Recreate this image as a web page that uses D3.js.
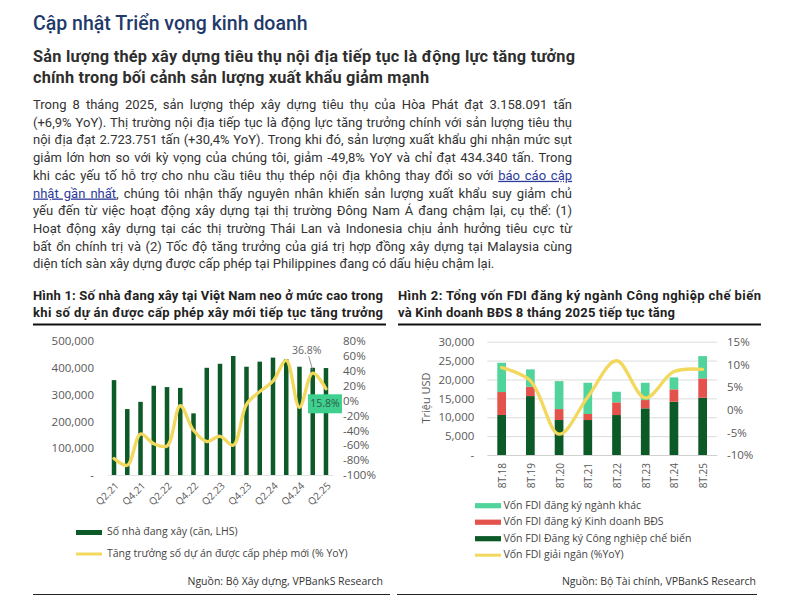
<!DOCTYPE html>
<html><head><meta charset="utf-8">
<script src="https://cdn.jsdelivr.net/npm/d3@7"></script>
<style>body{margin:0;background:#fff} svg{display:block}</style>
</head><body>
<svg id="c" width="789" height="595"></svg>
<script>
// ---------- DATA ----------
const quarters = ["Q2.21","Q3.21","Q4.21","Q1.22","Q2.22","Q3.22","Q4.22","Q1.23","Q2.23","Q3.23","Q4.23","Q1.24","Q2.24","Q3.24","Q4.24","Q1.25","Q2.25"];
const housesUnderConstruction = [354000,246000,273000,333000,328000,325000,230000,400000,415000,444000,404000,423000,438000,432000,404000,400000,399000];
const newPermitGrowth = [-78,-87,-45,-58,-61,-7,-40,-55,-48,-60,-5,12,26,54,-9,36.8,15.8];
const leftTicks1 = [0,100000,200000,300000,400000,500000];
const rightTicks1 = [-100,-80,-60,-40,-20,0,20,40,60,80];
const xLabels1 = ["Q2.21","Q4.21","Q2.22","Q4.22","Q2.23","Q4.23","Q2.24","Q4.24","Q2.25"];

const periods = ["8T.18","8T.19","8T.20","8T.21","8T.22","8T.23","8T.24","8T.25"];
const fdiManufacturing = [10600,15600,9260,9260,10580,12350,14100,15160];
const fdiRealEstate = [6070,2470,2900,1600,3360,2200,3280,5130];
const fdiOther = [7750,4600,7400,8270,2810,4580,3170,5900];
const fdiDisbursedGrowth = [9.3,6.4,-5.4,2.8,10.8,2.6,8.4,8.9];
const leftTicks2 = [0,5000,10000,15000,20000,25000,30000];
const rightTicks2 = [-10,-5,0,5,10,15];

const heading = "Cập nhật Triển vọng kinh doanh";
const subheading = ["Sản lượng thép xây dựng tiêu thụ nội địa tiếp tục là động lực tăng tưởng",
                    "chính trong bối cảnh sản lượng xuất khẩu giảm mạnh"];
const paraLines = [
 [["Trong 8 tháng 2025, sản lượng thép xây dựng tiêu thụ của Hòa Phát đạt 3.158.091 tấn"]],
 [["(+6,9% YoY). Thị trường nội địa tiếp tục là động lực tăng trưởng chính với sản lượng tiêu thụ"]],
 [["nội địa đạt 2.723.751 tấn (+30,4% YoY). Trong khi đó, sản lượng xuất khẩu ghi nhận mức sụt"]],
 [["giảm lớn hơn so với kỳ vọng của chúng tôi, giảm -49,8% YoY và chỉ đạt 434.340 tấn. Trong"]],
 [["khi các yếu tố hỗ trợ cho nhu cầu tiêu thụ thép nội địa không thay đổi so với "],["báo cáo cập",1]],
 [["nhật gần nhất",1],[", chúng tôi nhận thấy nguyên nhân khiến sản lượng xuất khẩu suy giảm chủ"]],
 [["yếu đến từ việc hoạt động xây dựng tại thị trường Đông Nam Á đang chậm lại, cụ thể: (1)"]],
 [["Hoạt động xây dựng tại các thị trường Thái Lan và Indonesia chịu ảnh hưởng tiêu cực từ"]],
 [["bất ổn chính trị và (2) Tốc độ tăng trưởng của giá trị hợp đồng xây dựng tại Malaysia cùng"]],
 [["diện tích sàn xây dựng được cấp phép tại Philippines đang có dấu hiệu chậm lại."]]
];
const title1 = ["Hình 1: Số nhà đang xây tại Việt Nam neo ở mức cao trong","khi số dự án được cấp phép xây mới tiếp tục tăng trưởng"];
const title2 = ["Hình 2: Tổng vốn FDI đăng ký ngành Công nghiệp chế biến","và Kinh doanh BĐS 8 tháng 2025 tiếp tục tăng"];
const legend1 = ["Số nhà đang xây (căn, LHS)","Tăng trưởng số dự án được cấp phép mới (% YoY)"];
const legend2 = ["Vốn FDI đăng ký ngành khác","Vốn FDI đăng ký Kinh doanh BĐS","Vốn FDI Đăng ký Công nghiệp chế biến","Vốn FDI giải ngân (%YoY)"];
const source1 = "Nguồn: Bộ Xây dựng, VPBankS Research";
const source2 = "Nguồn: Bộ Tài chính, VPBankS Research";

// ---------- STYLE ----------
const TF = "Roboto, 'Noto Sans', sans-serif";
const CF = "'Open Sans', 'Noto Sans', sans-serif";
const DARK = "#0b5a27", RED = "#e4534b", MINT = "#50d49c", YEL = "#f2d85c";
const svg = d3.select("#c");

function fitWidth(sel, w){
  const n = sel.node().getComputedTextLength();
  if(Math.abs(n-w)>0.5) sel.attr("textLength",w).attr("lengthAdjust", n>w ? "spacingAndGlyphs" : "spacing");
}

// ---------- HEADER TEXT ----------
svg.append("text").attr("x",33).attr("y",25).attr("dominant-baseline","middle")
  .attr("font-family",TF).attr("font-weight",500).attr("font-size",19.5).attr("fill","#1f3a6a").text(heading);
const subW = [542, 396];
subheading.forEach((s,i)=>{
  const t = svg.append("text").attr("x",33).attr("y",58+i*21).attr("dominant-baseline","middle")
   .attr("font-family",TF).attr("font-weight",700).attr("font-size",16.3).attr("fill","#2e2e2e").text(s);
  fitWidth(t, subW[i]);
});

// paragraph, justified
const pg = svg.append("g");
const pLeft = 33, pRight = 572, lh = 17.7, pTop = 106;
const pNodes = paraLines.map((parts,i)=>{
  const t = pg.append("text").attr("x",pLeft).attr("y",pTop+i*lh).attr("dominant-baseline","middle")
    .attr("font-family",TF).attr("font-size",13).attr("fill","#333");
  parts.forEach(p=>{
    const ts = t.append("tspan").text(p[0]);
    if(p[1]) ts.attr("fill","#2d3a9a").attr("text-decoration","underline");
  });
  return t;
});
let scale = 1;
pNodes.forEach((t,i)=>{ if(i<pNodes.length-1){ const w=t.node().getComputedTextLength(); scale=Math.min(scale,(pRight-pLeft)/w); }});
const fs = 13*Math.min(1, scale*1.02);
pNodes.forEach((t,i)=>{
  t.attr("font-size",fs);
  if(i<pNodes.length-1){
    const w=t.node().getComputedTextLength();
    const txt = paraLines[i].map(p=>p[0]).join("");
    const n = (txt.match(/ /g)||[]).length;
    t.attr("word-spacing",(pRight-pLeft-w)/n);
    const w2=t.node().getComputedTextLength();
    if(Math.abs(w2-(pRight-pLeft))>1) t.attr("textLength",pRight-pLeft).attr("lengthAdjust","spacingAndGlyphs");
  }
});

// ---------- TITLES ----------
function chartTitle(lines,x,widths,x2){
  lines.forEach((s,i)=>{
    const t = svg.append("text").attr("x",x).attr("y",297+i*16.5).attr("dominant-baseline","middle")
      .attr("font-family",TF).attr("font-weight",700).attr("font-size",13).attr("fill","#222").text(s);
    fitWidth(t, widths[i]);
  });
  svg.append("line").attr("x1",x).attr("x2",x2).attr("y1",324.5).attr("y2",324.5).attr("stroke","#111").attr("stroke-width",2);
}
chartTitle(title1,33,[350,350],386);
chartTitle(title2,398,[363,277],761);

// ---------- CHART 1 ----------
const g1 = svg.append("g");
const x1 = d3.scaleBand().domain(quarters).range([107.4,332.6]);
const y1L = d3.scaleLinear().domain([0,500000]).range([475,341]);
const y1R = d3.scaleLinear().domain([-100,80]).range([475,341]);
const cx1 = d => x1(d)+x1.bandwidth()/2;

const ax1L = g1.append("g").attr("transform","translate(107,0)")
  .call(d3.axisLeft(y1L).tickValues(leftTicks1).tickSize(0).tickPadding(13)
    .tickFormat(d=> d===0 ? "-" : d3.format(",")(d)));
const ax1R = g1.append("g").attr("transform","translate(333,0)")
  .call(d3.axisRight(y1R).tickValues(rightTicks1).tickSize(0).tickPadding(10)
    .tickFormat(d=> (d<0?"-":"")+Math.abs(d)+"%"));
const ax1B = g1.append("g").attr("transform","translate(0,475)")
  .call(d3.axisBottom(x1).tickValues(xLabels1).tickSize(0));
[ax1L,ax1R].forEach(a=>{ a.select(".domain").remove(); a.selectAll("text").attr("font-family",CF).attr("font-size",11.5).attr("fill","#595959"); });
ax1B.select(".domain").attr("stroke","#e3e3e3");
ax1B.selectAll("text").attr("font-family",CF).attr("font-size",10).attr("fill","#595959")
  .attr("y",0).attr("dy","0.35em").attr("text-anchor","end").attr("transform","translate(3,9) rotate(-45)");

g1.selectAll("rect.b1").data(quarters).join("rect").attr("class","b1")
  .attr("x",d=>cx1(d)-2.25).attr("width",4.5)
  .attr("y",(d,i)=>y1L(housesUnderConstruction[i]))
  .attr("height",(d,i)=>y1L(0)-y1L(housesUnderConstruction[i]))
  .attr("fill",DARK);

const line1 = d3.line().x((d,i)=>cx1(quarters[i])).y(d=>y1R(d)).curve(d3.curveCatmullRom.alpha(0.5));
g1.append("path").datum(newPermitGrowth).attr("d",line1).attr("fill","none")
  .attr("stroke",YEL).attr("stroke-width",3.3).attr("stroke-linecap","round").attr("stroke-linejoin","round");

// annotations
const iA = 15, iB = 16;
const pax = cx1(quarters[iA]), pay = y1R(newPermitGrowth[iA]);
g1.append("line").attr("x1",pax-4).attr("y1",pay-17).attr("x2",pax).attr("y2",pay-3).attr("stroke","#777").attr("stroke-width",0.8);
g1.append("text").attr("x",pax-6).attr("y",pay-21.5).attr("text-anchor","middle").attr("dominant-baseline","middle")
  .attr("font-family",CF).attr("font-size",10.5).attr("fill","#666").text(newPermitGrowth[iA].toFixed(1)+"%");
const pbx = cx1(quarters[iB]), pby = y1R(newPermitGrowth[iB]);
g1.append("rect").attr("x",pbx-18).attr("y",pby+5.5).attr("width",34).attr("height",19).attr("fill","#3fcf8e");
g1.append("text").attr("x",pbx-1).attr("y",pby+15.5).attr("text-anchor","middle").attr("dominant-baseline","middle")
  .attr("font-family",CF).attr("font-size",10.5).attr("fill","#2d5c4a").text(newPermitGrowth[iB].toFixed(1)+"%");

// legend 1
g1.append("rect").attr("x",76).attr("y",530).attr("width",26).attr("height",5).attr("fill",DARK);
g1.append("line").attr("x1",76).attr("x2",102).attr("y1",554).attr("y2",554).attr("stroke",YEL).attr("stroke-width",3);
legend1.forEach((s,i)=>{
  g1.append("text").attr("x",107).attr("y",532.5+i*21.5).attr("dominant-baseline","middle")
   .attr("font-family",CF).attr("font-size",10.5).attr("fill","#444").text(s);
});
g1.append("text").attr("x",383).attr("y",582).attr("text-anchor","end").attr("dominant-baseline","middle")
  .attr("font-family",CF).attr("font-size",10.5).attr("fill","#333").text(source1);
g1.append("line").attr("x1",33).attr("x2",390).attr("y1",594.5).attr("y2",594.5).attr("stroke","#222").attr("stroke-width",1);

// ---------- CHART 2 ----------
const g2 = svg.append("g");
const x2 = d3.scaleBand().domain(periods).range([487.3,717]);
const y2L = d3.scaleLinear().domain([0,30000]).range([455,341.7]);
const y2R = d3.scaleLinear().domain([-10,15]).range([455,341.7]);
const cx2 = d => x2(d)+x2.bandwidth()/2;

const ax2L = g2.append("g").attr("transform","translate(487.3,0)")
  .call(d3.axisLeft(y2L).tickValues(leftTicks2).tickSize(-(717-487.3)).tickPadding(13)
    .tickFormat(d=> d===0 ? "-" : d3.format(",")(d)));
ax2L.select(".domain").remove();
ax2L.selectAll("line").attr("stroke","#dcdcdc");
const ax2R = g2.append("g").attr("transform","translate(717,0)")
  .call(d3.axisRight(y2R).tickValues(rightTicks2).tickSize(0).tickPadding(10)
    .tickFormat(d=> (d<0?"-":"")+Math.abs(d)+"%"));
ax2R.select(".domain").remove();
[ax2L,ax2R].forEach(a=> a.selectAll("text").attr("font-family",CF).attr("font-size",11.5).attr("fill","#595959"));
const ax2B = g2.append("g").attr("transform","translate(0,455)")
  .call(d3.axisBottom(x2).tickSize(0));
ax2B.select(".domain").attr("stroke","#d0d0d0");
ax2B.selectAll("text").attr("font-family",CF).attr("font-size",10).attr("fill","#595959")
  .attr("y",0).attr("dy","0.35em").attr("text-anchor","end").attr("transform","translate(1,8) rotate(-90)");

g2.append("text").attr("transform","translate(427,398) rotate(-90)").attr("text-anchor","middle")
  .attr("dominant-baseline","middle").attr("font-family",CF).attr("font-size",11).attr("fill","#595959").text("Triệu USD");

const table2 = periods.map((p,i)=>({p, manu:fdiManufacturing[i], re:fdiRealEstate[i], other:fdiOther[i]}));
const stack = d3.stack().keys(["manu","re","other"])(table2);
const colors2 = {manu:DARK, re:RED, other:MINT};
stack.forEach(layer=>{
  g2.selectAll(null).data(layer).join("rect")
    .attr("x",d=>cx2(d.data.p)-4.35).attr("width",8.7)
    .attr("y",d=>y2L(d[1])).attr("height",d=>y2L(d[0])-y2L(d[1]))
    .attr("fill",colors2[layer.key]);
});
const line2 = d3.line().x((d,i)=>cx2(periods[i])).y(d=>y2R(d)).curve(d3.curveCatmullRom.alpha(0.5));
g2.append("path").datum(fdiDisbursedGrowth).attr("d",line2).attr("fill","none")
  .attr("stroke",YEL).attr("stroke-width",3.3).attr("stroke-linecap","round").attr("stroke-linejoin","round");

// legend 2
const lg2 = [[MINT,"rect"],[RED,"rect"],[DARK,"rect"],[YEL,"line"]];
lg2.forEach((c,i)=>{
  const y = 505.7 + i*16.5;
  if(c[1]==="rect") g2.append("rect").attr("x",475).attr("y",y-2.6).attr("width",26).attr("height",5.2).attr("fill",c[0]);
  else g2.append("line").attr("x1",475).attr("x2",501).attr("y1",y).attr("y2",y).attr("stroke",c[0]).attr("stroke-width",3);
  g2.append("text").attr("x",503.5).attr("y",y).attr("dominant-baseline","middle")
    .attr("font-family",CF).attr("font-size",10.5).attr("fill","#444").text(legend2[i]);
});
g2.append("text").attr("x",756).attr("y",582).attr("text-anchor","end").attr("dominant-baseline","middle")
  .attr("font-family",CF).attr("font-size",10.5).attr("fill","#333").text(source2);
g2.append("line").attr("x1",397).attr("x2",757).attr("y1",594.5).attr("y2",594.5).attr("stroke","#222").attr("stroke-width",1);
</script>
</body></html>
